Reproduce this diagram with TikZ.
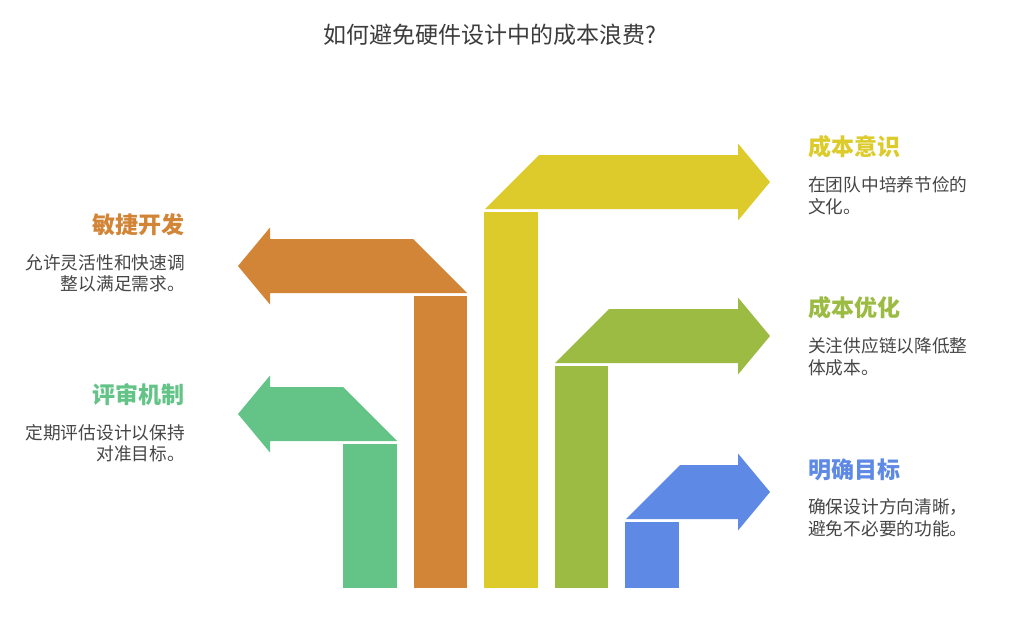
\documentclass[tikz,border=0pt]{standalone}
\usepackage{fontspec}
\setmainfont{Noto Sans CJK SC}
\definecolor{corange}{HTML}{D38537}
\definecolor{cyellow}{HTML}{DCCB2B}
\definecolor{colive}{HTML}{9BBB42}
\definecolor{cblue}{HTML}{5E8AE6}
\definecolor{cgreen}{HTML}{64C488}
\definecolor{ctext}{HTML}{464646}
\definecolor{ctitle}{HTML}{3C3C3C}
\begin{document}
\begin{tikzpicture}[x=1pt,y=-1pt,
  head/.style={font=\fontsize{23}{26}\selectfont\bfseries, inner sep=0pt},
  body/.style={font=\fontsize{17.7}{20}\selectfont, text=ctext, inner sep=0pt},
]
\useasboundingbox[fill=white] (0,0) rectangle (1024,634);
% title
\node[font=\fontsize{23}{26}\selectfont, text=ctitle, inner sep=0pt] (title) at (490,35) {如何避免硬件设计中的成本浪费?};

% left orange arrow + bar
\fill[corange] (238,266) -- (270,227.5) -- (270,239) -- (413,239) -- (467,293) -- (270,293) -- (270,304.5) -- cycle;
\fill[corange] (414,296) rectangle (467,588);
% left green arrow + bar
\fill[cgreen] (238,414) -- (270,375.5) -- (270,387) -- (343,387) -- (397,441) -- (270,441) -- (270,452.5) -- cycle;
\fill[cgreen] (343,444) rectangle (397,588);
% yellow
\fill[cyellow] (485,209) -- (539,155) -- (738,155) -- (738,143.5) -- (770,182) -- (738,220.5) -- (738,209) -- cycle;
\fill[cyellow] (484,212) rectangle (538,588);
% olive
\fill[colive] (555,363) -- (609,309) -- (738,309) -- (738,297.5) -- (770,336) -- (738,374.5) -- (738,363) -- cycle;
\fill[colive] (555,366) rectangle (608,588);
% blue
\fill[cblue] (626,519) -- (680,465) -- (738,465) -- (738,453.5) -- (770,492) -- (738,530.5) -- (738,519) -- cycle;
\fill[cblue] (625,522) rectangle (679,588);

% left texts
\node[head, text=corange, anchor=east] (h1) at (185,225) {敏捷开发};
\node[body, anchor=east] (b1a) at (185,263) {允许灵活性和快速调};
\node[body, anchor=east] (b1b) at (185,284) {整以满足需求。};

\node[head, text=cgreen, anchor=east] (h2) at (185,395) {评审机制};
\node[body, anchor=east] (b2a) at (185,433) {定期评估设计以保持};
\node[body, anchor=east] (b2b) at (185,454) {对准目标。};

% right texts
\node[head, text=cyellow, anchor=west] (h3) at (808,147) {成本意识};
\node[body, anchor=west] (b3a) at (808,185) {在团队中培养节俭的};
\node[body, anchor=west] (b3b) at (808,207) {文化。};

\node[head, text=colive, anchor=west] (h4) at (808,308) {成本优化};
\node[body, anchor=west] (b4a) at (808,346) {关注供应链以降低整};
\node[body, anchor=west] (b4b) at (808,368) {体成本。};

\node[head, text=cblue, anchor=west] (h5) at (808,470) {明确目标};
\node[body, anchor=west] (b5a) at (808,507) {确保设计方向清晰，};
\node[body, anchor=west] (b5b) at (808,529) {避免不必要的功能。};
\end{tikzpicture}
\end{document}
